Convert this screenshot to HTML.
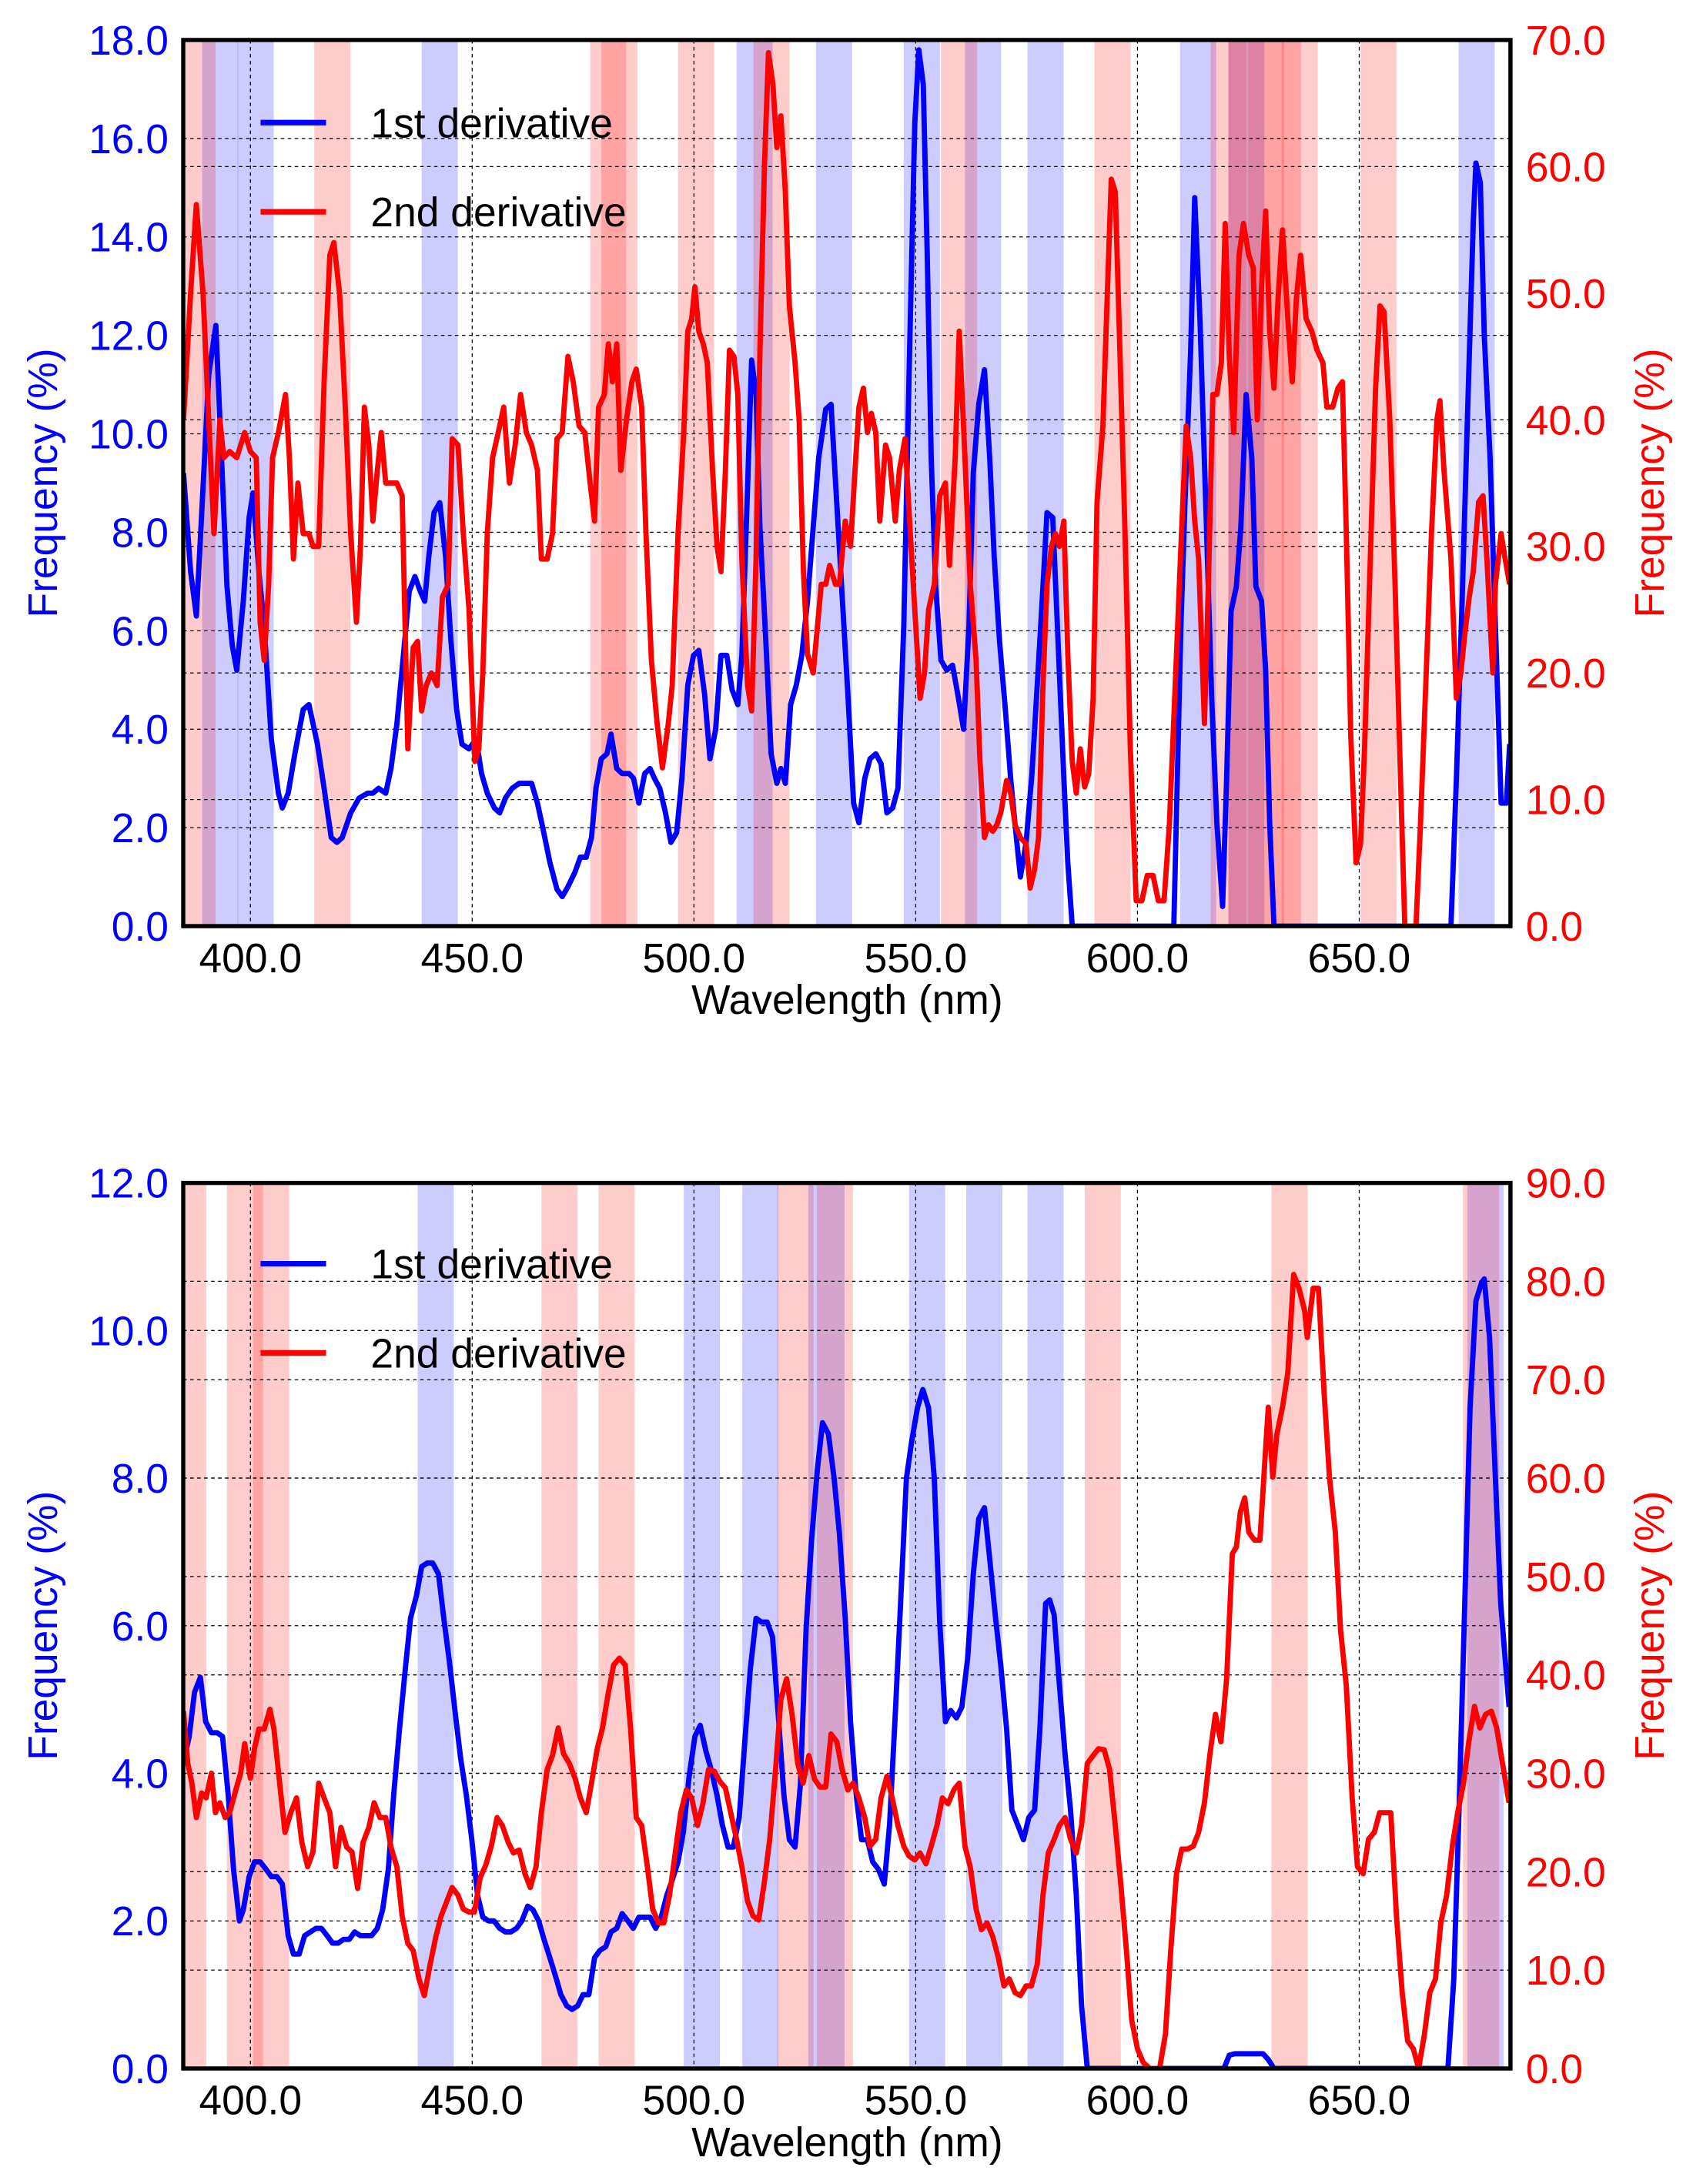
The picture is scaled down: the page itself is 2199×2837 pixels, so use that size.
<!DOCTYPE html>
<html><head><meta charset="utf-8"><style>
html,body{margin:0;padding:0;background:#fff;}
svg{display:block;font-family:"Liberation Sans",Arial,sans-serif;}
</style></head><body>
<svg id="fig" xmlns="http://www.w3.org/2000/svg" width="2199" height="2837" viewBox="0 0 1215 1567.5">
<defs>
<clipPath id="clipTop"><rect x="131.5" y="28.7" width="952.5" height="636"/></clipPath>
<clipPath id="clipBot"><rect x="131.5" y="849" width="952.5" height="635.6"/></clipPath>
</defs>
<g id="topPanel"></g>
<g id="botPanel"></g>
</svg>
<script>
// ---------- TOP PANEL DATA ----------
const topBlueWl=[384.9,386.5,387.8,389.3,390.6,392.2,393.1,394.7,395.9,396.9,398.4,399.7,400.6,401.9,403.1,404.7,406.3,407.2,408.5,410.0,411.9,413.2,415.1,416.6,418.2,419.5,420.7,422.6,424.5,426.4,427.6,428.9,430.5,431.7,433.0,434.5,435.8,437.1,438.3,439.3,440.2,441.4,442.7,444.0,445.2,446.5,447.7,449.3,450.9,452.1,453.4,455.0,456.2,457.5,459.0,460.6,462.2,463.4,464.7,465.9,467.5,469.1,470.3,471.6,473.2,474.4,475.7,476.9,477.9,479.1,480.4,481.3,482.6,483.8,485.4,486.4,487.6,488.9,490.1,491.1,492.3,493.6,494.8,496.1,497.3,498.6,499.9,501.1,502.4,503.6,504.9,506.1,507.4,508.6,509.9,510.8,512.1,513.0,514.0,514.9,516.2,517.4,518.7,519.6,520.6,521.8,523.1,524.3,525.6,526.9,528.1,529.7,530.9,532.2,533.5,534.7,536.0,537.2,538.5,539.7,541.0,542.2,543.5,544.8,546.0,547.3,548.5,549.8,550.7,551.7,552.6,553.5,554.5,555.7,557.0,558.3,559.5,560.8,562.0,563.0,564.2,565.5,566.7,567.7,568.9,570.2,571.4,572.7,573.6,574.9,576.2,577.4,578.7,579.6,580.9,582.1,583.4,584.3,585.3,608.2,609.8,610.7,612.0,612.9,614.1,615.4,616.7,617.9,619.2,620.1,621.1,622.3,623.3,624.5,625.8,626.7,628.0,628.9,629.8,630.8,670.7,671.9,673.2,674.4,675.7,676.3,677.3,678.2,679.5,680.7,682.0,683.2,683.9];
const topBlueVal=[9.2,7.2,6.3,8.9,11.2,12.2,10.3,6.9,5.7,5.2,6.6,8.3,8.8,7.2,6.1,3.8,2.7,2.4,2.7,3.5,4.4,4.5,3.7,2.8,1.8,1.7,1.8,2.3,2.6,2.7,2.7,2.8,2.7,3.2,4.1,5.5,6.8,7.1,6.8,6.6,7.5,8.4,8.6,7.5,5.8,4.4,3.7,3.6,3.8,3.1,2.7,2.4,2.3,2.6,2.8,2.9,2.9,2.9,2.5,2.0,1.3,0.75,0.6,0.8,1.1,1.4,1.4,1.8,2.8,3.4,3.5,3.9,3.2,3.1,3.1,3.0,2.5,3.1,3.2,3.0,2.8,2.3,1.7,1.9,3.0,4.9,5.5,5.6,4.7,3.4,4.0,5.5,5.5,4.8,4.5,5.5,8.9,11.5,10.8,8.1,5.8,3.5,2.9,3.2,2.9,4.5,4.9,5.5,6.6,8.1,9.5,10.5,10.6,8.6,6.6,4.7,2.5,2.1,3.0,3.4,3.5,3.3,2.3,2.4,2.8,6.1,11.2,16.3,17.8,17.1,13.7,9.5,6.9,5.4,5.2,5.3,4.7,4.0,6.1,9.2,10.6,11.3,9.5,7.5,5.8,4.4,3.0,1.8,1.0,1.7,3.1,4.9,6.9,8.4,8.3,5.8,3.0,1.3,0,0,6.1,8.6,11.7,14.8,12.3,8.6,4.7,2.1,0.4,3.0,6.4,6.9,8.1,10.8,9.5,6.9,6.6,5.2,2.1,0,0,3.0,6.6,10.3,14.3,15.5,15.1,12.0,9.5,6.1,2.5,2.5,3.7];
const topRedWl=[384.9,386.5,387.8,389.3,390.6,391.8,393.1,394.0,395.3,396.9,398.7,400.0,401.3,402.2,403.1,404.1,405.0,406.3,407.9,408.8,409.7,410.7,411.9,413.2,414.1,415.4,416.6,417.9,418.8,420.1,421.4,422.6,423.9,424.8,425.7,426.7,427.6,428.6,429.5,430.5,431.7,433.0,434.2,435.5,436.7,437.7,438.6,439.6,440.8,442.1,443.3,444.6,445.5,446.8,448.0,449.3,450.6,451.5,452.4,453.4,454.6,455.9,457.1,458.4,459.7,460.9,462.2,463.4,464.7,465.6,466.9,468.1,469.1,470.3,471.6,472.8,474.1,475.4,476.6,477.6,478.5,479.8,480.7,481.6,482.6,483.5,484.8,486.0,487.0,488.2,489.2,490.4,491.7,492.9,494.2,495.1,496.4,497.7,498.6,499.5,500.2,501.1,502.1,503.0,504.2,505.2,506.1,507.1,508.0,509.0,509.9,510.8,512.1,513.0,514.0,514.9,515.9,516.8,517.8,518.7,519.6,520.6,521.5,522.8,523.7,524.7,525.6,526.9,527.8,528.7,529.7,530.6,531.9,532.8,534.1,535.3,536.3,537.2,538.2,539.1,540.0,541.0,541.9,543.2,544.1,545.4,546.3,547.6,548.8,549.8,551.0,552.0,552.9,554.2,555.4,556.7,557.6,558.9,559.8,561.1,562.3,563.6,564.5,565.5,566.4,567.4,568.3,569.2,570.5,571.4,572.4,573.6,574.9,575.8,576.8,577.7,578.7,579.6,580.6,581.5,582.4,583.4,584.3,585.3,586.2,587.1,588.1,589.0,590.0,590.9,592.2,593.1,594.1,595.0,595.9,597.2,598.4,599.7,601.0,602.2,603.5,604.7,606.0,607.2,608.5,609.8,611.0,612.0,612.9,613.8,615.1,616.0,617.0,617.9,618.9,619.8,620.7,621.7,622.9,623.9,625.1,626.1,627.0,628.0,628.9,629.8,630.8,631.7,632.7,633.9,634.9,635.8,636.8,638.0,639.3,640.5,641.8,642.7,644.0,645.2,646.2,647.1,648.1,649.3,650.3,651.2,652.5,653.7,654.7,655.6,656.9,658.1,659.4,660.3,662.8,663.8,665.0,666.3,667.5,668.2,669.1,670.7,671.9,672.9,673.8,674.8,675.7,676.9,677.9,678.8,680.1,680.7,682.0,682.9,683.9];
const topRedVal=[40,50,57,50,40,31,40,37,37.5,37,39,37.5,37,24,21,27,37,39,42,37,29,35,31,31,30,30,43,53,54,50,41,31,24,30,41,38,32,36,39,35,35,35,34,14,22,22.5,17,19,20,19,26,27,38.5,38,31,25,13,14,20,31,37,39,41,35,38,42,39,38,36,29,29,31,38.5,39,45,43,39.5,39,35,32,41,42,46,43,46,36,40,43,44,41,31,21,16,12.5,16,19,31,39,47,48,50.5,47,46,44.5,36,30,28,36,45.5,45,42,29,19,17,29,45.5,60,69,66.5,61.5,64,58,49,44.5,40,28,21.5,20,23.5,27,27,28.5,27,27,32,30,36,41,42.5,39,40.5,39,32,38,37,32,36,38.5,31,25,18,20,25,27,34,35,28.5,37,47,37,27,21,13,7,8,7.5,8,9,11.5,10.5,8,7,6.5,3,4.5,7,19,27,30,31,30,32,21.5,13,10.5,14,11,12,18,33.5,39.5,49,59,58,47,31,14,2,2,4,4,2,2,8,19,30,39.5,37,32,29,16,27,42,42,44.5,55.5,45,39,53,55.5,53,52,40,50.5,56.5,47,42.5,49.5,55,48,43,49.5,53,48,47,45.5,44.5,41,41,42.5,43,31,15,5,6.5,14,29,42.5,49,48.5,40,27,10.5,0,0,8,19,31,40,41.5,36,29,18,20,23,26,28,33.5,34,29,20,27,31,29,27];
const topRedBands=[384.0,414.4,476.6,479.1,496.4,513.4,555.7,590.3,616.5,620.5,624.9,628.7,632.5,650.3];
const topBlueBands=[389.1,397.1,438.6,509.6,527.5,547.3,561.1,575.2,609.6,620.5,672.4];
const topLeftTicks=[0,2,4,6,8,10,12,14,16,18];
const topRightTicks=[0,10,20,30,40,50,60,70];

// ---------- BOTTOM PANEL DATA ----------
const botBlueWl=[384.9,386.2,387.4,388.7,389.9,391.2,392.5,393.7,395.0,396.2,397.5,398.4,399.7,400.9,402.2,403.5,404.7,406.0,407.2,408.5,409.7,411.0,412.2,413.5,414.8,416.0,417.3,418.5,419.8,421.0,422.3,423.5,424.8,426.1,427.3,428.6,429.8,431.1,432.3,433.6,434.9,436.1,437.4,438.6,439.9,441.1,442.4,443.6,444.9,446.2,447.4,448.7,449.9,451.2,452.4,453.7,454.9,456.2,457.5,458.7,460.0,461.2,462.5,463.7,465.0,466.2,467.5,468.8,470.0,471.3,472.5,473.8,475.0,476.3,477.6,478.8,480.1,481.3,482.6,483.8,485.1,486.3,487.6,488.9,490.1,491.4,492.6,493.9,495.1,496.4,497.6,498.9,500.2,501.4,502.7,503.9,505.2,506.4,507.7,508.9,510.2,511.5,512.7,514.0,515.2,516.5,517.7,519.0,520.3,521.5,522.8,524.0,525.3,526.5,527.8,529.0,530.3,531.6,532.8,534.1,535.3,536.6,537.8,539.1,540.3,541.6,542.9,544.1,545.4,546.6,547.9,549.1,550.4,551.6,552.9,554.2,555.4,556.7,557.9,559.2,560.4,561.7,563.0,564.2,565.5,566.7,568.0,569.2,570.5,571.7,573.0,574.3,575.5,576.8,578.0,579.3,580.2,581.2,582.4,583.7,584.9,586.2,587.4,588.7,619.5,620.7,622.0,628.3,629.5,630.8,670.0,671.3,672.5,673.8,675.0,676.3,677.6,678.2,679.4,680.7,681.9,683.8];
const botBlueVal=[4.15,4.5,5.1,5.3,4.7,4.55,4.55,4.5,3.7,2.7,2.0,2.15,2.6,2.8,2.8,2.7,2.6,2.6,2.5,1.8,1.55,1.55,1.8,1.85,1.9,1.9,1.8,1.7,1.7,1.75,1.75,1.85,1.8,1.8,1.8,1.9,2.15,2.7,3.7,4.6,5.4,6.1,6.4,6.8,6.85,6.85,6.7,6.1,5.5,4.8,4.2,3.7,3.1,2.35,2.05,2.0,2.0,1.9,1.85,1.85,1.9,2.0,2.2,2.15,2.0,1.75,1.5,1.25,1.0,0.85,0.8,0.85,1.0,1.0,1.5,1.6,1.65,1.85,1.9,2.1,2.0,1.9,2.05,2.05,2.05,1.9,2.05,2.35,2.55,2.8,3.2,3.95,4.5,4.65,4.3,4.05,3.7,3.3,3.0,3.0,3.4,4.45,5.4,6.1,6.05,6.05,5.85,4.8,3.7,3.1,3.0,3.85,5.95,7.15,8.1,8.75,8.6,8.0,7.25,6.1,4.7,3.7,3.1,3.1,2.8,2.7,2.5,3.3,4.8,6.3,8.0,8.5,8.95,9.2,8.95,8.0,6.05,4.7,4.85,4.75,4.9,5.55,6.7,7.45,7.6,6.9,6.1,5.45,4.6,3.5,3.3,3.1,3.4,3.5,4.6,6.3,6.35,6.15,5.2,4.25,3.5,2.35,0.85,0,0,0.18,0.2,0.2,0.12,0,0,1.2,3.5,6.3,8.95,10.4,10.65,10.7,9.9,8.0,6.3,4.9];
const botRedWl=[384.9,385.9,386.8,387.8,389.0,390.0,391.2,392.1,393.1,394.3,395.3,396.5,397.8,398.7,400.0,400.9,401.9,403.1,404.4,405.3,406.6,407.8,409.1,410.4,411.6,412.9,414.1,415.4,416.6,417.9,419.2,420.4,421.7,422.9,424.2,425.4,426.7,427.9,429.2,430.5,431.7,433.0,434.2,435.5,436.7,438.0,439.2,440.5,441.8,443.0,444.3,445.5,446.8,448.0,449.3,450.5,451.8,453.1,454.3,455.6,456.8,458.1,459.3,460.6,461.9,463.1,464.4,465.6,466.9,468.1,469.4,470.6,471.9,473.2,474.4,475.7,476.9,478.2,479.4,480.7,481.9,483.2,484.5,485.7,487.0,488.2,489.5,490.7,492.0,493.2,494.5,495.8,497.0,498.3,499.5,500.8,502.0,503.3,504.6,505.8,507.1,508.3,509.6,510.8,512.1,513.3,514.6,515.9,517.1,518.4,519.6,520.9,522.1,523.4,524.6,525.9,527.2,528.4,529.7,530.9,532.2,533.4,534.7,535.9,537.2,538.5,539.7,541.0,542.2,543.5,544.7,546.0,547.3,548.5,549.8,551.0,552.3,553.5,554.8,556.0,557.3,558.6,559.8,561.1,562.3,563.6,564.8,566.1,567.4,568.6,569.9,571.1,572.4,573.6,574.9,576.1,577.4,578.7,579.9,581.2,582.4,583.7,584.9,586.2,587.4,588.7,590.0,591.2,592.5,593.7,595.0,596.2,597.5,598.7,600.0,601.3,602.8,605.0,606.3,607.5,608.8,610.0,611.3,612.6,613.8,615.1,616.3,617.6,618.8,620.1,621.4,622.3,623.2,624.2,625.1,626.4,627.6,628.9,629.5,630.5,631.4,632.7,633.9,635.2,636.4,637.7,638.3,639.6,640.8,642.1,643.3,644.6,645.8,647.1,648.4,649.6,650.9,652.1,653.4,654.6,655.9,657.1,658.4,659.7,660.9,662.2,663.4,664.7,665.9,667.2,668.4,669.7,671.0,672.2,673.5,674.7,676.0,677.2,678.5,679.8,681.0,682.3,683.8];
const botRedVal=[36.3,31,29,25.5,28,27.5,30,26,27,25.5,26,28,30,33,29.5,32.5,34.5,34.5,36.5,34.5,29,24,26,27.5,23,20.5,22,29,27.5,26,20.5,24.5,22.5,22,18.3,23,24.5,27,25.5,25.5,22.5,20.5,15.5,12.7,12,9.1,7.4,10.5,13.4,15.5,17,18.4,17.6,16.2,15.9,15.9,19.4,20.7,22.6,25.5,24.7,23,21.9,22.2,19.8,18.4,20.5,26,30.4,31.8,34.6,32,31,29.5,27.5,26,29,32.5,34.6,38.2,41,41.7,41,34.6,25.5,24.7,20.5,16.2,14.8,14.8,17.6,21.9,26,28.3,27.5,24.7,26.9,30.4,30.2,29.2,28.5,26,23.3,20.5,17,15.5,15.1,19,23.3,30.4,37.5,39.6,36,31,29,31.8,29.4,28.6,28.6,34,33.2,30.4,28.3,29,27.5,25.5,22.6,23.3,27.5,29.7,27.5,24.7,22.6,21.6,21.2,21.9,20.8,22.6,24.7,27.5,26.9,28.3,29,22.6,20.5,16.2,14.1,14.8,13.4,11.3,8.4,9.1,7.7,7.4,8.4,8.4,10.6,17.6,21.9,23.3,24.7,25.5,23.3,21.9,24.7,31,31.8,32.5,32.4,30.4,24.7,19,12,4.9,2,0.6,0,0,3.5,12,19.8,22.3,22.3,22.6,24,27,31.8,36,33.2,39.6,52.3,53,56.6,58,54.5,53.7,53.7,63,67.2,60.1,64.4,67.2,70.7,80.7,79.3,77,74.3,79.3,79.3,68.6,60.1,54.5,44.5,38.9,27.5,20.5,19.8,23.3,24,26,26,26,15.5,7.7,2.8,2,0,3.5,7.7,9.1,14.8,17.6,22.6,26,29,33.2,36.8,34.6,36,36.3,34.6,31,27];
const botRedBands=[381.9,394.7,400.6,465.6,478.5,518.8,527.7,588.1,630.2,673.4];
const botBlueBands=[437.7,497.7,510.9,525.8,548.5,561.4,575.2,674.4];
const botLeftTicks=[0,2,4,6,8,10,12];
const botRightTicks=[0,10,20,30,40,50,60,70,80,90];
const xTicks=[400,450,500,550,600,650];
const BAND_W=8.15;

// ---------- DRAWING ----------
const NS='http://www.w3.org/2000/svg';
const X0=131.5,X1=1084,WMIN=384.85,WMAX=684.1;
function xs(w){return X0+(w-WMIN)*(X1-X0)/(WMAX-WMIN);}
function mk(tag,attrs,parent){const e=document.createElementNS(NS,tag);for(const k in attrs)e.setAttribute(k,attrs[k]);parent.appendChild(e);return e;}

function panel(g,top,bot,lMax,rMax,lTicks,rTicks,blueWl,blueVal,redWl,redVal,redBands,blueBands,clip,legY){
  const yl=v=>bot-(v/lMax)*(bot-top);
  const yr=v=>bot-(v/rMax)*(bot-top);
  const bg=mk('g',{'clip-path':'url(#'+clip+')'},g);
  
  
  blueBands.forEach(b=>{const r=mk('rect',{x:xs(b),y:top,width:xs(b+BAND_W)-xs(b),height:bot-top,fill:'rgba(0,0,255,0.2)'},bg);
    
    });
  redBands.forEach(b=>{const r=mk('rect',{x:xs(b),y:top,width:xs(b+BAND_W)-xs(b),height:bot-top,fill:'rgba(255,0,0,0.2)'},bg);
    
    });
  const gg=mk('g',{stroke:'#000','stroke-width':0.7,'stroke-dasharray':'2.5,2.5',fill:'none'},g);
  
  
  xTicks.forEach(t=>mk('line',{x1:xs(t),x2:xs(t),y1:top,y2:bot},gg));
  lTicks.forEach(t=>{if(t>0&&t<lMax)mk('line',{x1:X0,x2:X1,y1:yl(t),y2:yl(t)},gg);});
  rTicks.forEach(t=>{if(t>0&&t<rMax)mk('line',{x1:X0,x2:X1,y1:yr(t),y2:yr(t)},gg);});
  const lg=mk('g',{'clip-path':'url(#'+clip+')'},g);
  const bp=blueWl.map((w,i)=>xs(w).toFixed(1)+','+yl(blueVal[i]).toFixed(1)).join(' ');
  const b=mk('polyline',{points:bp,fill:'none',stroke:'#0000ff','stroke-width':3.8,'stroke-linejoin':'round'},lg);
  
  
  const rp=redWl.map((w,i)=>xs(w).toFixed(1)+','+yr(redVal[i]).toFixed(1)).join(' ');
  const r=mk('polyline',{points:rp,fill:'none',stroke:'#ff0000','stroke-width':3.8,'stroke-linejoin':'round'},lg);
  
  
  const fr=mk('rect',{x:X0,y:top,width:X1-X0,height:bot-top,fill:'none',stroke:'#000','stroke-width':3},g);
  
  
  lTicks.forEach(t=>{const e=mk('text',{x:121,y:yl(t)+10.5,'text-anchor':'end','font-size':29.5,fill:'#0000ff'},g);e.textContent=t.toFixed(1);
    
    });
  rTicks.forEach(t=>{const e=mk('text',{x:1095,y:yr(t)+10.5,'font-size':29.5,fill:'#ff0000'},g);e.textContent=t.toFixed(1);
    
    });
  xTicks.forEach(t=>{const e=mk('text',{x:xs(t),y:bot+33,'text-anchor':'middle','font-size':29.5,fill:'#000'},g);e.textContent=t.toFixed(1);
    
    });
  const xt=mk('text',{x:608,y:bot+63,'text-anchor':'middle','font-size':29.5,fill:'#000'},g);xt.textContent='Wavelength (nm)';
  
  
  const cy=(top+bot)/2;
  const ylab=mk('text',{x:0,y:0,transform:'translate(41,'+cy+') rotate(-90)','text-anchor':'middle','font-size':29.5,fill:'#0000ff'},g);ylab.textContent='Frequency (%)';
  
  
  const ylab2=mk('text',{x:0,y:0,transform:'translate(1194,'+cy+') rotate(-90)','text-anchor':'middle','font-size':29.5,fill:'#ff0000'},g);ylab2.textContent='Frequency (%)';
  
  
  const leg=mk('g',{},g);
  
  
  [['1st derivative','#0000ff',0],['2nd derivative','#ff0000',64]].forEach(([t,c,dy])=>{
    const en=mk('g',{},leg);
    
    
    mk('line',{x1:187,x2:234,y1:legY+dy,y2:legY+dy,stroke:c,'stroke-width':4},en);
    const tx=mk('text',{x:266,y:legY+dy+10.5,'font-size':29.5,fill:'#000'},en);tx.textContent=t;});
}
panel(document.getElementById('topPanel'),28.7,664.7,18,70,topLeftTicks,topRightTicks,topBlueWl,topBlueVal,topRedWl,topRedVal,topRedBands,topBlueBands,'clipTop',88);
panel(document.getElementById('botPanel'),849,1484.6,12,90,botLeftTicks,botRightTicks,botBlueWl,botBlueVal,botRedWl,botRedVal,botRedBands,botBlueBands,'clipBot',907);
</script>
</body></html>
